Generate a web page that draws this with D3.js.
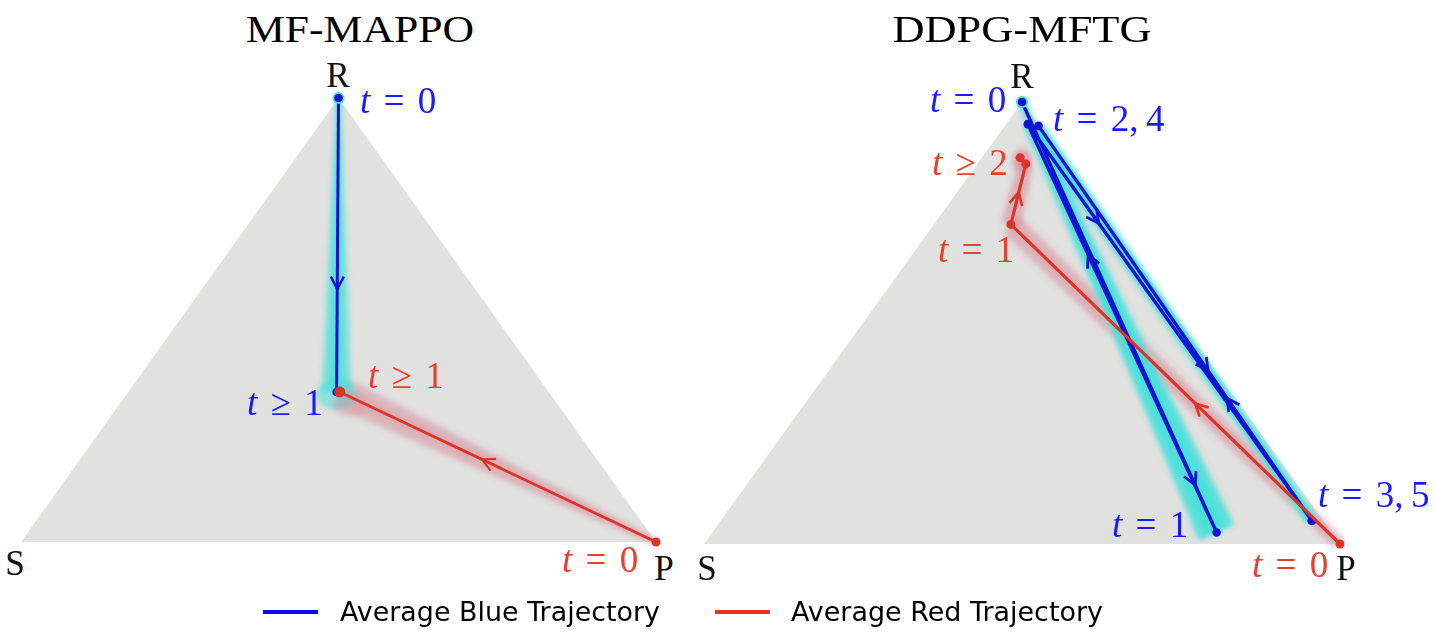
<!DOCTYPE html>
<html><head><meta charset="utf-8">
<script src="https://cdn.jsdelivr.net/npm/d3@7"></script>
<style>html,body{margin:0;padding:0;background:#fff;}svg{display:block;}</style>
</head><body>
<svg id="chart" width="1436" height="638"></svg>
<script>
// ---------------- DATA ----------------
// Mixed strategies as [R, P, S] probabilities
const titles = ["MF-MAPPO", "DDPG-MFTG"];
const vertexLabels = ["R", "S", "P"];
const mappoBlue = [[1, 0, 0], [0.338, 0.328, 0.334]];
const mappoRed  = [[0, 1, 0], [0.338, 0.333, 0.329]];
const ddpgBlue  = [[1, 0, 0], [0.026, 0.793, 0.181], [0.950, 0.034, 0.016], [0.053, 0.929, 0.018], [0.946, 0.053, 0.001], [0.052, 0.930, 0.018]];
const ddpgRed   = [[0, 1, 0], [0.723, 0.121, 0.156], [0.860, 0.076, 0.064], [0.874, 0.060, 0.066]];
const legendLabels = ["Average Blue Trajectory", "Average Red Trajectory"];
// time annotations: [relation, value]
const mappoBlueLabels = [["=", "0"], ["≥", "1"]];
const mappoRedLabels  = [["=", "0"], ["≥", "1"]];
const ddpgBlueLabels  = [["=", "0"], ["=", "1"], ["=", "2, 4"], ["=", "3, 5"]];
const ddpgRedLabels   = [["=", "0"], ["=", "1"], ["≥", "2"]];

// ---------------- STYLE / LAYOUT ----------------
const BLUE_LINE = "#1212d2", RED_LINE = "#dc3428";
const BLUE_TXT = "#1a1aff", RED_TXT = "#e8402f";
const CYAN = "#48e0da", PINK = "#d88c98";
const svg = d3.select("#chart");
const defs = svg.append("defs");
defs.append("filter").attr("id", "blur").attr("x", "-50%").attr("y", "-50%").attr("width", "200%").attr("height", "200%")
  .append("feGaussianBlur").attr("stdDeviation", 2.5);

const panels = [
  { title: titles[0], titleX: 360, xr: [21, 656], yr: [542, 98],
    blue: mappoBlue, red: mappoRed,
    blueBands: [[5, 30]], redBands: [[8, 32]],
    blueArrows: [0.65], redArrows: [0.55], lw: 3,
    blueLabels: mappoBlueLabels, redLabels: mappoRedLabels,
    blueLabelPos: [[360, 113], [247, 415]], redLabelPos: [[562, 572], [368, 388]],
    vlabelPos: [[338, 87], [15, 575], [664, 580]], blob: true },
  { title: titles[1], titleX: 1022, xr: [704, 1340], yr: [544, 102],
    blue: ddpgBlue, red: ddpgRed,
    blueBands: [[8, 40], [36, 10], [9, 12], [12, 9], [9, 12]], redBands: [[14, 24], [22, 16], [14, 14]],
    blueArrows: [0.89, 0.68, 0.25, 0.31, 0.62], redArrows: [0.44, 0.53, null], lw: 3.4,
    blueLabels: ddpgBlueLabels, redLabels: ddpgRedLabels,
    blueLabelPos: [[930, 112], [1112, 537], [1053, 131], [1318, 507]], redLabelPos: [[1252, 577], [938, 262], [932, 175]],
    vlabelPos: [[1022, 88], [707, 580], [1346, 580]], blob: false }
];

function taper(a, b, w0, w1) {
  const dx = b[0] - a[0], dy = b[1] - a[1], L = Math.hypot(dx, dy) || 1;
  const nx = -dy / L, ny = dx / L;
  return [[a[0] + nx * w0 / 2, a[1] + ny * w0 / 2], [b[0] + nx * w1 / 2, b[1] + ny * w1 / 2],
          [b[0] - nx * w1 / 2, b[1] - ny * w1 / 2], [a[0] - nx * w0 / 2, a[1] - ny * w0 / 2]];
}

function mathLabel(g, x, y, op, val, color) {
  const t = g.append("text").attr("x", x).attr("y", y)
    .attr("font-family", "'Liberation Serif', 'DejaVu Serif', serif").attr("font-size", 37).attr("fill", color);
  t.append("tspan").attr("font-style", "italic").text("t");
  t.append("tspan").attr("dx", "0.36em").text(op);
  const parts = val.split(", ");
  t.append("tspan").attr("dx", "0.36em").text(parts[0] + (parts.length > 1 ? "," : ""));
  if (parts.length > 1) t.append("tspan").attr("dx", "0.2em").text(parts[1]);
}

function arrowHead(g, a, b, f, color, lw) {
  const px = a[0] + (b[0] - a[0]) * f, py = a[1] + (b[1] - a[1]) * f;
  const ang = Math.atan2(b[1] - a[1], b[0] - a[0]);
  const len = 14, spread = 0.48;
  const p1 = [px - len * Math.cos(ang - spread), py - len * Math.sin(ang - spread)];
  const p2 = [px - len * Math.cos(ang + spread), py - len * Math.sin(ang + spread)];
  g.append("path").attr("d", d3.line()([p1, [px, py], p2]))
    .attr("fill", "none").attr("stroke", color).attr("stroke-width", lw).attr("stroke-linejoin", "miter");
}

panels.forEach(pn => {
  const x = d3.scaleLinear().domain([0, 1]).range(pn.xr);
  const y = d3.scaleLinear().domain([0, 1]).range(pn.yr);
  const proj = d => [x(d[1] + d[0] / 2), y(d[0])];
  const g = svg.append("g");

  // simplex
  const verts = [[1, 0, 0], [0, 0, 1], [0, 1, 0]].map(proj);
  g.append("path").attr("d", d3.line()(verts) + "Z").attr("fill", "#e1e1e0").attr("stroke", "none");

  // title
  g.append("text").attr("x", pn.titleX).attr("y", 42).attr("text-anchor", "middle")
    .attr("font-family", "'Liberation Serif', serif").attr("font-size", 37)
    .attr("textLength", pn.title === "MF-MAPPO" ? 228 : 259).attr("lengthAdjust", "spacingAndGlyphs")
    .text(pn.title);

  // vertex labels
  vertexLabels.forEach((v, i) => {
    g.append("text").attr("x", pn.vlabelPos[i][0]).attr("y", pn.vlabelPos[i][1]).attr("text-anchor", "middle")
      .attr("font-family", "'Liberation Serif', serif").attr("font-size", 35).attr("fill", "#111").text(v);
  });

  const bp = pn.blue.map(proj), rp = pn.red.map(proj);

  // spread bands around the averages
  const bandG = g.append("g").attr("filter", "url(#blur)");
  d3.pairs(rp).forEach(([a, b], i) => {
    const w = pn.redBands[i];
    bandG.append("path").attr("d", d3.line()(taper(a, b, w[0], w[1])) + "Z").attr("fill", PINK).attr("opacity", 0.45);
    bandG.append("path").attr("d", d3.line()(taper(a, b, w[0] * 0.5, w[1] * 0.5)) + "Z").attr("fill", PINK).attr("opacity", 0.3);
  });
  d3.pairs(bp).forEach(([a, b], i) => {
    const w = pn.blueBands[i];
    bandG.append("path").attr("d", d3.line()(taper(a, b, w[0], w[1])) + "Z").attr("fill", CYAN).attr("opacity", 0.6);
    bandG.append("path").attr("d", d3.line()(taper(a, b, w[0] * 0.55, w[1] * 0.55)) + "Z").attr("fill", CYAN).attr("opacity", 0.7);
  });
  if (pn.blob) {
    const c = bp[bp.length - 1];
    bandG.append("ellipse").attr("cx", c[0]).attr("cy", c[1] + 2).attr("rx", 20).attr("ry", 16).attr("fill", CYAN).attr("opacity", 0.55);
    const c2 = rp[rp.length - 1];
    bandG.append("ellipse").attr("cx", c2[0] + 10).attr("cy", c2[1] + 12).attr("rx", 18).attr("ry", 13).attr("fill", PINK).attr("opacity", 0.3);
  } else {
    const c2 = rp[rp.length - 1];
    bandG.append("ellipse").attr("cx", c2[0] + 2).attr("cy", c2[1] + 3).attr("rx", 10).attr("ry", 13).attr("fill", PINK).attr("opacity", 0.55);
    bandG.append("circle").attr("cx", bp[0][0]).attr("cy", bp[0][1]).attr("r", 5).attr("fill", CYAN).attr("opacity", 0.8);
  }

  // blue average trajectory
  g.append("path").attr("d", d3.line()(bp)).attr("fill", "none").attr("stroke", BLUE_LINE)
    .attr("stroke-width", pn.lw).attr("stroke-linejoin", "round");
  d3.pairs(bp).forEach(([a, b], i) => { if (pn.blueArrows[i] != null) arrowHead(g, a, b, pn.blueArrows[i], BLUE_LINE, pn.lw - 0.6); });
  g.append("circle").attr("cx", bp[0][0]).attr("cy", bp[0][1]).attr("r", 6).attr("fill", CYAN);
  bp.forEach(p => g.append("circle").attr("cx", p[0]).attr("cy", p[1]).attr("r", 4.3).attr("fill", BLUE_LINE));

  // red average trajectory
  g.append("path").attr("d", d3.line()(rp)).attr("fill", "none").attr("stroke", RED_LINE)
    .attr("stroke-width", pn.lw - 0.2).attr("stroke-linejoin", "round");
  d3.pairs(rp).forEach(([a, b], i) => { if (pn.redArrows[i] != null) arrowHead(g, a, b, pn.redArrows[i], RED_LINE, pn.lw - 0.8); });
  rp.forEach((p, i) => g.append("circle").attr("cx", p[0]).attr("cy", p[1]).attr("r", i === rp.length - 1 && pn.blob ? 5.5 : 4.5).attr("fill", RED_LINE));

  // annotations
  pn.blueLabels.forEach((l, i) => mathLabel(g, pn.blueLabelPos[i][0], pn.blueLabelPos[i][1], l[0], l[1], BLUE_TXT));
  pn.redLabels.forEach((l, i) => mathLabel(g, pn.redLabelPos[i][0], pn.redLabelPos[i][1], l[0], l[1], RED_TXT));
});

// legend
const legend = svg.append("g");
const legendItems = [[legendLabels[0], "#0a0af0", 263, 340], [legendLabels[1], "#e63323", 715, 791]];
legendItems.forEach(([lab, col, lx, tx]) => {
  legend.append("line").attr("x1", lx).attr("x2", lx + 55).attr("y1", 612).attr("y2", 612)
    .attr("stroke", col).attr("stroke-width", 4);
  legend.append("text").attr("x", tx).attr("y", 621).attr("font-family", "'DejaVu Sans', sans-serif")
    .attr("font-size", 27).attr("textLength", lab.startsWith("Average Blue") ? 320 : 312)
    .attr("lengthAdjust", "spacingAndGlyphs").attr("fill", "#000").text(lab);
});
</script>
</body></html>
